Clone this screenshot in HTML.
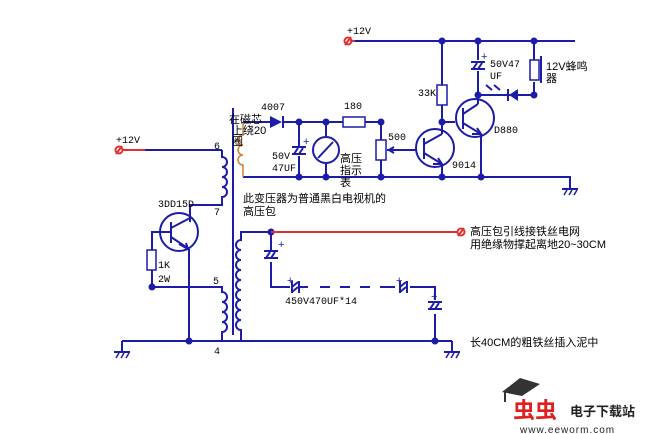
<!DOCTYPE html>
<html><head><meta charset="utf-8"><style>
body{margin:0;background:#fff;}
svg{display:block;}
text{font-family:"Liberation Sans","Noto Sans CJK SC",sans-serif;font-size:11px;fill:#000;}
.m{font-family:"Liberation Mono","Noto Sans CJK SC",monospace;font-size:10px;}
</style></head><body>
<svg width="653" height="434" viewBox="0 0 653 434" xmlns="http://www.w3.org/2000/svg">
<g stroke="#1c1ca8" stroke-width="2" fill="none">
<!-- left +12V -->
<line x1="145" y1="150" x2="222" y2="150"/>
<path d="M222 150 V157 a5 5 0 0 1 0 10 a5 5 0 0 1 0 10 a5 5 0 0 1 0 10 a5 5 0 0 1 0 10 V205 H190 V222"/>
<!-- transistor 3DD15D -->
<circle cx="179" cy="232" r="19"/>
<line x1="171" y1="222" x2="171" y2="243"/>
<line x1="171" y1="228" x2="190" y2="218"/>
<line x1="171" y1="237" x2="189" y2="249"/>
<line x1="160" y1="232" x2="171" y2="232"/>
<path d="M160 232 H152 V250"/>
<rect x="147" y="250" width="9" height="20" stroke-width="1.5"/>
<path d="M152 270 V287 H222 V292 a5 5 0 0 1 0 10 a5 5 0 0 1 0 10 a5 5 0 0 1 0 10 a5 5 0 0 1 0 10 V341"/>
<path d="M189 249 V341"/>
<!-- core -->
<line x1="233" y1="108" x2="233" y2="335"/>
<!-- secondary -->
<path d="M270 232 H241 V240 a5 5 0 0 0 0 10 a5 5 0 0 0 0 10 a5 5 0 0 0 0 10 a5 5 0 0 0 0 10 a5 5 0 0 0 0 10 a5 5 0 0 0 0 10 a5 5 0 0 0 0 10 a5 5 0 0 0 0 10 a5 5 0 0 0 0 10 V341"/>
<!-- ground line -->
<line x1="122" y1="341" x2="452" y2="341"/>
<path d="M122 341 V352 M114 352 H130 M452 341 V352 M444 352 H460"/>
<!-- cap chain -->
<path d="M271 232 V250 M271 262 V287 H290 M298 287 H300 M300 287 H308 M410 287 H435 V300 M435 314 V341"/>
<path d="M320 287 H330 M340 287 H350 M360 287 H370 M380 287 H395"/>
<!-- top section -->
<path d="M243 122 H270 M284 122 H343 M365 122 H381 V140 M381 160 V177 M243 177 H570 V188 M562 189 H578"/>
<path d="M299 122 V146 M299 156 V177 M326 122 V136 M326 164 V177"/>
<circle cx="326" cy="150" r="13"/>
<rect x="343" y="117" width="22" height="10" stroke-width="1.5"/>
<rect x="376" y="140" width="10" height="20" stroke-width="1.5"/>
<path d="M387 150 H416"/>
<circle cx="435" cy="148" r="19"/>
<line x1="424" y1="138" x2="424" y2="159"/>
<line x1="424" y1="144" x2="442" y2="134"/>
<line x1="424" y1="153" x2="442" y2="164"/>
<path d="M442 134 V105 M442 85 V41 M442 164 V177"/>
<rect x="437" y="85" width="10" height="20" stroke-width="1.5"/>
<path d="M442 122 H455"/>
<circle cx="475" cy="118" r="19"/>
<line x1="463" y1="108" x2="463" y2="129"/>
<line x1="463" y1="114" x2="478" y2="104"/>
<line x1="463" y1="123" x2="481" y2="134"/>
<path d="M478 104 V71 M478 60 V41 M481 134 V177 M478 95 H510 M518 95 H534 V82 M534 60 V41"/>
<rect x="530" y="60" width="9" height="20" stroke-width="1.5"/>
<line x1="541" y1="56" x2="541" y2="83"/>
<line x1="355" y1="41" x2="575" y2="41"/>
</g>
<!-- ground hatches -->
<g stroke="#1c1ca8" stroke-width="1.5">
<path d="M116 358 l3 -5 M121 358 l3 -5 M126 358 l3 -5 M446 358 l3 -5 M451 358 l3 -5 M456 358 l3 -5 M564 195 l3 -5 M569 195 l3 -5 M574 195 l3 -5"/>
</g>
<!-- caps polarized -->
<g stroke="#1c1ca8" stroke-width="2" fill="none">
<path d="M264 251 H278 M264 258 H278 M266 258 l4 -6 M271 258 l4 -6"/>
<path d="M292 281 V293 M299 281 V293 M292 287 l6 -5 M292 292 l6 -5"/>
<path d="M400 281 V293 M407 281 V293 M400 287 l6 -5 M400 292 l6 -5"/>
<path d="M428 302 H442 M428 309 H442 M430 309 l4 -6 M435 309 l4 -6"/>
<path d="M292 147 H306 M292 154 H306 M294 154 l4 -6 M299 154 l4 -6"/>
<path d="M471 62 H485 M471 69 H485 M473 69 l4 -6 M478 69 l4 -6"/>
<path d="M318 158 L333 142"/>
<path d="M389 150 l5 -3 M389 150 l5 3"/>
<path d="M179 244 l9 5 l-2 -6"/>
<path d="M433 164 l9 0 l-4 -6"/>
<path d="M472 134 l9 0 l-4 -6"/>
<path d="M492 90 l-6 -5 M500 90 l-6 -5"/>
</g>
<g fill="#1c1ca8">
<polygon points="270,116 270,128 282,122"/>
<line x1="283" y1="116" x2="283" y2="128" stroke="#1c1ca8" stroke-width="2"/>
<polygon points="518,89 518,101 509,95"/>
<line x1="508" y1="89" x2="508" y2="101" stroke="#1c1ca8" stroke-width="2"/>
<g>
<circle cx="152" cy="287" r="3.5"/><circle cx="189" cy="341" r="3.5"/><circle cx="271" cy="232" r="3.5"/><circle cx="435" cy="341" r="3.5"/>
<circle cx="299" cy="122" r="3.5"/><circle cx="326" cy="122" r="3.5"/><circle cx="381" cy="122" r="3.5"/>
<circle cx="299" cy="177" r="3.5"/><circle cx="326" cy="177" r="3.5"/><circle cx="381" cy="177" r="3.5"/><circle cx="442" cy="177" r="3.5"/><circle cx="481" cy="177" r="3.5"/>
<circle cx="442" cy="122" r="3.5"/><circle cx="442" cy="41" r="3.5"/><circle cx="478" cy="41" r="3.5"/><circle cx="534" cy="41" r="3.5"/><circle cx="478" cy="95" r="3.5"/><circle cx="534" cy="95" r="3.5"/>
</g>
</g>
<!-- orange coil -->
<path d="M243 122 V135 a5 5 0 0 0 0 10 a5 5 0 0 0 0 10 a5 5 0 0 0 0 10 V177" stroke="#d08030" stroke-width="1.5" fill="none"/>
<!-- red lines -->
<g stroke="#e03030" stroke-width="2" fill="none">
<line x1="122" y1="150" x2="145" y2="150"/>
<line x1="271" y1="232" x2="458" y2="232"/>
<line x1="350" y1="41" x2="355" y2="41"/>
<circle cx="119" cy="150" r="3.5"/><line x1="116" y1="154" x2="122" y2="146"/>
<circle cx="461" cy="232" r="3.5"/><line x1="458" y1="236" x2="464" y2="228"/>
<circle cx="348" cy="41" r="3.5"/><line x1="345" y1="45" x2="351" y2="37"/>
</g>
<!-- labels -->
<text x="116" y="143" class="m">+12V</text>
<text x="347" y="34" class="m">+12V</text>
<text x="214" y="149" class="m">6</text>
<text x="214" y="215" class="m">7</text>
<text x="213" y="284" class="m">5</text>
<text x="214" y="354" class="m">4</text>
<text x="158" y="207" class="m">3DD15D</text>
<text x="158" y="268" class="m">1K</text>
<text x="158" y="282" class="m">2W</text>
<text x="261" y="110" class="m">4007</text>
<text x="229" y="123" font-size="11">在磁芯</text>
<text x="232" y="134" font-size="11">上绕20</text>
<text x="232" y="145" font-size="11">圈</text>
<text x="344" y="109" class="m">180</text>
<text x="388" y="140" class="m">500</text>
<text x="272" y="159" class="m">50V</text>
<text x="272" y="171" class="m">47UF</text>
<text x="340" y="162">高压</text>
<text x="340" y="174">指示</text>
<text x="340" y="186">表</text>
<text x="243" y="202">此变压器为普通黑白电视机的</text>
<text x="243" y="215">高压包</text>
<text x="418" y="96" class="m">33K</text>
<text x="490" y="67" class="m">50V47</text>
<text x="490" y="79" class="m">UF</text>
<text x="546" y="70">12V蜂鸣</text>
<text x="546" y="82">器</text>
<text x="494" y="133" class="m">D880</text>
<text x="452" y="168" class="m">9014</text>
<text x="285" y="304" class="m">450V470UF*14</text>
<text x="278" y="248" font-size="10" fill="#1c1ca8" style="fill:#1c1ca8">+</text>
<text x="287" y="284" style="fill:#1c1ca8">+</text>
<text x="396" y="284" style="fill:#1c1ca8">+</text>
<text x="431" y="300" style="fill:#1c1ca8">+</text>
<text x="303" y="145" style="fill:#1c1ca8">+</text>
<text x="481" y="60" style="fill:#1c1ca8">+</text>
<text x="470" y="235">高压包引线接铁丝电网</text>
<text x="470" y="248">用绝缘物撑起离地20~30CM</text>
<text x="470" y="346">长40CM的粗铁丝插入泥中</text>
<!-- watermark -->
<path d="M502 392 L520 378 L540 384 L522 396 Z" fill="#333"/>
<line x1="505" y1="392" x2="505" y2="402" stroke="#333" stroke-width="2"/>
<text x="513" y="418" style="fill:#e02020;font-size:22px;font-weight:bold">虫虫</text>
<text x="570" y="416" style="font-size:13px;font-weight:bold;fill:#222">电子下载站</text>
<text x="520" y="433" style="font-size:10px;fill:#222;letter-spacing:1px">www.eeworm.com</text>
</svg>
</body></html>
